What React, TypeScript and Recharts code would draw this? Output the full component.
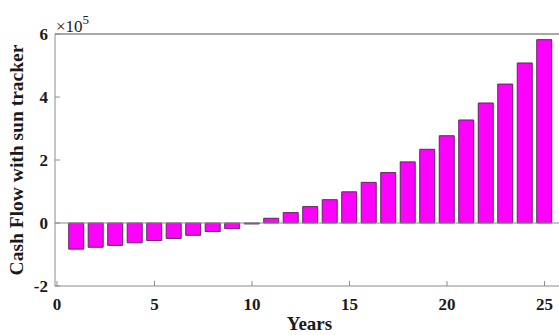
import { Bar, BarChart, Label, ReferenceLine, XAxis, YAxis } from "recharts";

const years = [1, 2, 3, 4, 5, 6, 7, 8, 9, 10, 11, 12, 13, 14, 15, 16, 17, 18, 19, 20, 21, 22, 23, 24, 25];
// cash flow in units of 1e5
const cashFlow = [
  -0.83, -0.77, -0.71, -0.63, -0.56, -0.49, -0.39, -0.27, -0.18, -0.03, 0.15, 0.33, 0.52, 0.74,
  0.99, 1.29, 1.6, 1.94, 2.34, 2.77, 3.27, 3.81, 4.41, 5.08, 5.82,
];
const xTicks = [0, 5, 10, 15, 20, 25];
const yTicks = [-2, 0, 2, 4, 6];

const data = years.map((year, i) => ({ year, value: cashFlow[i] }));

const FONT = "'Liberation Serif', 'Times New Roman', serif";
const AXIS = "#8c8c8c";

const tickStyle = { fill: "#1a1a1a", fontSize: 17, fontWeight: 700, fontFamily: FONT };

function ExponentLabel(props: any) {
  const { viewBox } = props;
  if (!viewBox) return null;
  return (
    <text x={viewBox.x + viewBox.width + 1} y={viewBox.y - 2} fill="#1a1a1a" fontFamily={FONT} fontSize={17}>
      ×10
      <tspan dy={-8} fontSize={13}>
        5
      </tspan>
    </text>
  );
}

export default function App() {
  return (
    <div
      style={{
        position: "fixed",
        left: 0,
        top: 0,
        width: 559,
        height: 335,
        overflow: "hidden",
        background: "#fff",
      }}
    >
      <BarChart
        width={600}
        height={335}
        data={data}
        margin={{ top: 33, right: 36, bottom: 0, left: 0 }}
        barSize={15}
      >
        <XAxis
          dataKey="year"
          type="number"
          domain={[-0.1, 26]}
          ticks={xTicks}
          allowDataOverflow
          height={49}
          stroke={AXIS}
          tickSize={-5}
          tickMargin={17}
          tick={tickStyle}
        >
          <Label
            value="Years"
            position="insideBottom"
            offset={5}
            style={{ fill: "#1a1a1a", fontSize: 19, fontWeight: 700, fontFamily: FONT }}
          />
        </XAxis>
        <XAxis
          xAxisId="top"
          dataKey="year"
          type="number"
          orientation="top"
          domain={[-0.1, 26]}
          ticks={xTicks}
          allowDataOverflow
          height={1}
          stroke={AXIS}
          tickSize={-5}
          tick={false}
        />
        <YAxis
          type="number"
          domain={[-2, 6]}
          ticks={yTicks}
          width={55}
          stroke={AXIS}
          tickSize={-5}
          tickMargin={12}
          tick={tickStyle}
        >
          <Label
            value="Cash Flow with sun tracker"
            angle={-90}
            position="insideLeft"
            offset={16}
            style={{ fill: "#1a1a1a", fontSize: 19.5, fontWeight: 700, fontFamily: FONT, textAnchor: "middle" }}
          />
          <Label position="insideTopLeft" content={<ExponentLabel />} />
        </YAxis>
        <ReferenceLine y={6} stroke={AXIS} strokeWidth={1} />
        <ReferenceLine y={0} stroke={AXIS} strokeWidth={1} />
        <Bar dataKey="value" fill="#ff00ff" stroke="#5a2a5a" strokeWidth={1} isAnimationActive={false} />
      </BarChart>
    </div>
  );
}
